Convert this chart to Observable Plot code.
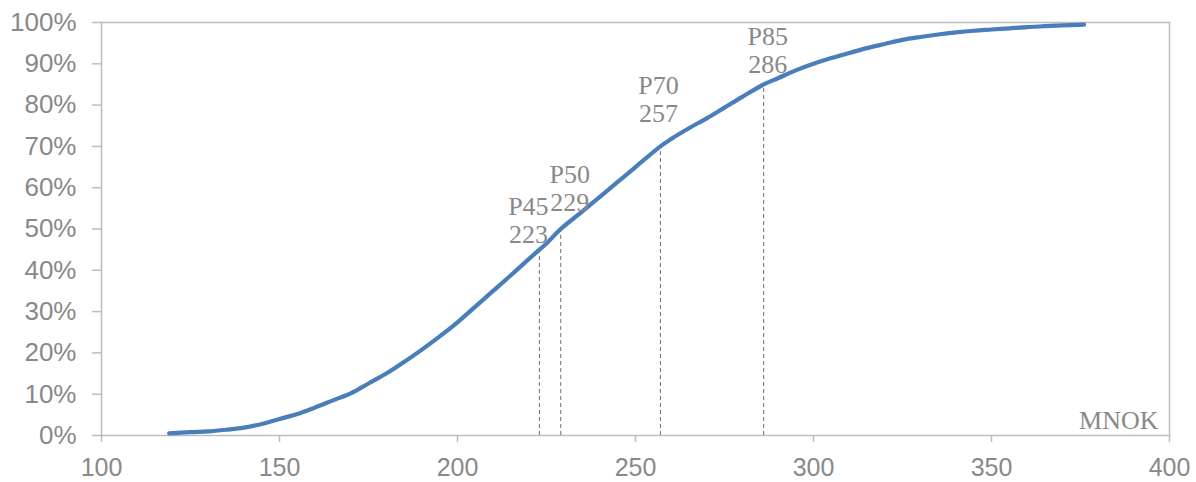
<!DOCTYPE html>
<html>
<head>
<meta charset="utf-8">
<script src="https://cdn.jsdelivr.net/npm/d3@7"></script>
<script src="https://cdn.jsdelivr.net/npm/@observablehq/plot@0.6"></script>
<style>
  html, body { margin: 0; padding: 0; background: #fff; }
  #chart { width: 1196px; height: 482px; }
</style>
</head>
<body>
<div id="chart"></div>
<script>
// Cumulative distribution (S-curve), values in MNOK and cumulative probability (%)
const costMNOK = [119,125,130,135,140,145,150,155,160,165,170,175,180,185,190,195,200,205,210,215,220,223,225,229,235,240,245,250,257,260,265,270,275,280,286,290,295,300,305,310,315,320,325,330,335,340,345,350,355,360,365,370,376];
const cumPct   = [0.5,0.8,1.0,1.4,1.9,2.8,4.0,5.2,6.8,8.5,10.2,12.6,15.0,17.8,20.8,24.0,27.4,31.2,35.0,38.8,42.7,45,46.5,50,54.2,57.8,61.4,65.0,70,71.8,74.4,76.8,79.4,82.0,85,86.5,88.4,90.0,91.4,92.6,93.8,94.8,95.8,96.5,97.1,97.6,98.0,98.3,98.6,98.9,99.1,99.3,99.5];

// Percentile markers
const pLabels = ["P45", "P50", "P70", "P85"];
const pValues = [223, 229, 257, 286];
const pProb   = [45, 50, 70, 85];

const xTicks = [100, 150, 200, 250, 300, 350, 400];
const yTicks = [0, 10, 20, 30, 40, 50, 60, 70, 80, 90, 100];
const axisUnit = "MNOK";

const curve = costMNOK.map((x, i) => ({x, y: cumPct[i]}));
const markers = pLabels.map((label, i) => ({label, x: pValues[i], y: pProb[i]}));

// label nudges (annotation placement, as in reference)
const nudge = {P45: [-11, -7], P50: [9, -18], P70: [-2, -24], P85: [4, -11]};

const gray = "#898989";
const axisGray = "#bdbdbd";

const chart = Plot.plot({
  width: 1196,
  height: 482,
  marginLeft: 101,
  marginRight: 27,
  marginTop: 22,
  marginBottom: 47,
  style: {fontFamily: "'Liberation Sans', Arial, sans-serif", fontSize: "26px", color: gray, background: "#fff", overflow: "visible"},
  x: {domain: [100, 400], label: null},
  y: {domain: [0, 100], label: null},
  marks: [
    Plot.frame({stroke: axisGray, strokeWidth: 1.5}),
    Plot.axisX({ticks: xTicks, tickSize: 7, tickPadding: 16, stroke: axisGray, strokeWidth: 1.5, fill: gray, fontSize: 25, tickFormat: d => String(d), label: null}),
    Plot.axisY({ticks: yTicks, tickSize: 9, tickPadding: 16, stroke: axisGray, strokeWidth: 1.5, fill: gray, tickFormat: d => d + "%", label: null}),
    Plot.ruleX(markers, {x: "x", y1: 0, y2: "y", stroke: "#6f6f6f", strokeWidth: 1, strokeDasharray: "4,3"}),
    Plot.line(curve, {x: "x", y: "y", stroke: "#4a7ebb", strokeWidth: 4.2, strokeLinecap: "round", strokeLinejoin: "round", curve: "catmull-rom"}),
    ...markers.map(m => Plot.text([m], {
      x: "x", y: "y",
      text: d => d.label + "\n" + d.x,
      lineAnchor: "bottom",
      lineHeight: 1.08,
      dx: nudge[m.label][0],
      dy: nudge[m.label][1],
      fontFamily: "'Liberation Serif', 'Times New Roman', serif",
      fontSize: 26,
      fill: gray
    })),
    Plot.text([axisUnit], {
      frameAnchor: "bottom-right",
      text: d => d,
      dx: -11, dy: -7,
      lineAnchor: "bottom",
      textAnchor: "end",
      fontFamily: "'Liberation Serif', 'Times New Roman', serif",
      fontSize: 26,
      fill: gray
    })
  ]
});
document.getElementById("chart").appendChild(chart);
</script>
</body>
</html>
